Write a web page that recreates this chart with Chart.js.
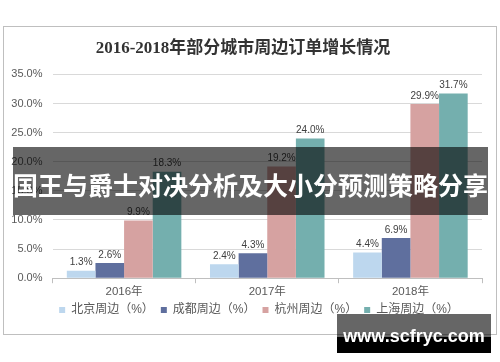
<!DOCTYPE html>
<html>
<head>
<meta charset="utf-8">
<script src="https://cdn.jsdelivr.net/npm/chart.js@4.4.0/dist/chart.umd.min.js"></script>
<style>
  html, body { margin: 0; padding: 0; background: #fff; }
  body { width: 500px; height: 362px; position: relative; overflow: hidden; }
  #frame { position: absolute; left: 3px; top: 26px; width: 492px; height: 307px; border: 1px solid #bfbfbf; }
  #banner {
    position: absolute; left: 13px; top: 147px; width: 475px; height: 68px;
    background: rgba(0,0,0,0.6); color: #fff;
    font: 700 25px "Noto Sans CJK SC", sans-serif; line-height: 74px;
    text-align: center; white-space: nowrap;
  }
  #mark {
    position: absolute; left: 337px; top: 314px; width: 154px; height: 39px;
    background: linear-gradient(rgba(0,0,0,0.6) 0 58%, #000 58%);
    color: #fff; font: 700 18px "Liberation Sans", sans-serif;
    line-height: 44px; text-align: center;
  }
</style>
</head>
<body>
<div id="frame"><canvas id="chart"></canvas></div>
<div id="banner">国王与爵士对决分析及大小分预测策略分享</div>
<div id="mark">www.scfryc.com</div>
<script>
// 数据
const years = ['2016年', '2017年', '2018年'];
const seriesNames = ['北京周边（%）', '成都周边（%）', '杭州周边（%）', '上海周边（%）'];
const beijing = [1.3, 2.4, 4.4];
const chengdu = [2.6, 4.3, 6.9];
const hangzhou = [9.9, 19.2, 29.9];
const shanghai = [18.3, 24.0, 31.7];
const yTicks = [0, 5, 10, 15, 20, 25, 30, 35];

const colors = ['#bdd7ee', '#5f6f9e', '#d6a2a1', '#74afae'];
const sansFont = '"Liberation Sans", "Noto Sans CJK SC", sans-serif';

// 柱顶数值标签
const barLabels = {
    id: 'barLabels',
    afterDatasetsDraw(chart) {
        const ctx = chart.ctx;
        ctx.save();
        ctx.font = '10px ' + sansFont;
        ctx.fillStyle = '#404040';
        ctx.textAlign = 'center';
        ctx.textBaseline = 'bottom';
        chart.data.datasets.forEach((ds, i) => {
            chart.getDatasetMeta(i).data.forEach((bar, j) => {
                ctx.fillText(ds.data[j].toFixed(1) + '%', bar.x, bar.y - 3);
            });
        });
        ctx.restore();
    }
};

// 图例位置微调：居中于整个框，并贴近横轴标签
const legendNudge = {
    id: 'legendNudge',
    afterLayout(chart) {
        const lg = chart.legend;
        if (!lg) return;
        lg.left += 16; lg.right += 16;
        lg.top -= 4; lg.bottom -= 4;
    }
};

const seriesData = [beijing, chengdu, hangzhou, shanghai];

new Chart(document.getElementById('chart').getContext('2d'), {
    type: 'bar',
    data: {
        labels: years,
        datasets: seriesNames.map((name, i) => ({
            label: name,
            data: seriesData[i],
            backgroundColor: colors[i],
            categoryPercentage: 0.8,
            barPercentage: 1.0
        }))
    },
    options: {
        responsive: true,
        maintainAspectRatio: false,
        animation: false,
        layout: { padding: { left: 0, right: 14, top: 0, bottom: 4 } },
        plugins: {
            title: {
                display: true,
                text: '2016-2018年部分城市周边订单增长情况',
                color: '#333333',
                font: { family: '"Liberation Serif", "Noto Sans CJK SC", serif', size: 17, weight: 'bold' },
                padding: { top: 11, bottom: 16 }
            },
            legend: {
                position: 'bottom',
                labels: {
                    boxWidth: 6, boxHeight: 6,
                    color: '#595959',
                    font: { family: sansFont, size: 12 },
                    padding: 7
                }
            },
            tooltip: { enabled: false }
        },
        scales: {
            x: {
                grid: { offset: true, drawOnChartArea: false, drawTicks: true, tickLength: 5, color: '#bfbfbf' },
                border: { color: '#bfbfbf' },
                ticks: { color: '#595959', font: { family: sansFont, size: 11.5 }, padding: 2 }
            },
            y: {
                min: 0,
                max: 35,
                afterBuildTicks: (scale) => { scale.ticks = yTicks.map(v => ({ value: v })); },
                afterFit: (scale) => { scale.width = 48.5; },
                grid: { color: '#d9d9d9', drawTicks: false },
                border: { display: false },
                ticks: {
                    color: '#595959',
                    font: { family: sansFont, size: 11 },
                    padding: 10,
                    callback: (v) => v.toFixed(1) + '%'
                }
            }
        }
    },
    plugins: [barLabels, legendNudge]
});
</script>
</body>
</html>
